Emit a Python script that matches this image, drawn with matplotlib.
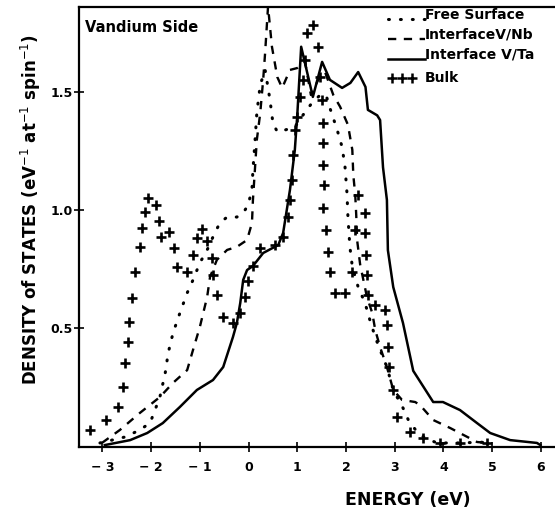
import matplotlib
matplotlib.use("Agg")
import matplotlib.pyplot as plt
from matplotlib.lines import Line2D

# ---- data ----
free_E = [-3.05, -2.54, -2.23, -2.02, -1.82, -1.71, -1.65, -1.55, -1.41, -1.26, -1.14, -1.00,
          -0.85, -0.73, -0.59, -0.44, -0.24, -0.11, -0.01, 0.07, 0.09, 0.13, 0.17, 0.24, 0.34,
          0.44, 0.50, 0.59, 0.75, 0.95, 1.12, 1.30, 1.47, 1.59, 1.67, 1.82, 1.92, 1.98, 2.02,
          2.04, 2.08, 2.13, 2.25, 2.39, 2.49, 2.60, 2.70, 2.84, 2.97, 3.17, 3.28, 3.46, 3.62,
          3.87, 4.28, 4.96]
free_D = [0.015, 0.04, 0.07, 0.10, 0.209, 0.311, 0.395, 0.48, 0.564, 0.649, 0.704, 0.776,
          0.831, 0.886, 0.945, 0.970, 0.970, 0.987, 1.021, 1.085, 1.169, 1.283, 1.41, 1.529, 1.592,
          1.465, 1.368, 1.33, 1.338, 1.351, 1.402, 1.452, 1.486, 1.486, 1.431, 1.338, 1.266, 1.182, 1.072,
          0.97, 0.844, 0.76, 0.674, 0.607, 0.535, 0.463, 0.408, 0.336, 0.239, 0.163, 0.112, 0.061, 0.036,
          0.015, 0.015, 0.019]

nb_E = [-3.01, -2.64, -2.23, -1.82, -1.55, -1.26, -1.14, -1.00, -0.85, -0.79, -0.65, -0.44,
        -0.24, -0.03, 0.07, 0.09, 0.13, 0.17, 0.24, 0.30, 0.34, 0.40, 0.48, 0.59, 0.69, 0.85,
        1.00, 1.16, 1.28, 1.43, 1.57, 1.74, 1.88, 2.04, 2.13, 2.15, 2.19, 2.21, 2.23, 2.29,
        2.43, 2.54, 2.60, 2.70, 2.84, 2.97, 3.15, 3.42, 3.52, 3.79, 4.14, 4.41, 4.69, 4.90]
nb_D = [0.015, 0.07, 0.142, 0.209, 0.269, 0.323, 0.408, 0.505, 0.632, 0.717, 0.789, 0.831,
        0.844, 0.873, 0.945, 1.042, 1.169, 1.296, 1.41, 1.55, 1.664, 1.86, 1.69, 1.562, 1.516, 1.592,
        1.60, 1.626, 1.486, 1.55, 1.583, 1.486, 1.436, 1.36, 1.254, 1.148, 1.063, 0.98, 0.87, 0.77,
        0.632, 0.564, 0.493, 0.42, 0.336, 0.239, 0.197, 0.188, 0.175, 0.112, 0.078, 0.049, 0.019, 0.015]

ta_E = [-2.95, -2.43, -2.08, -1.76, -1.41, -1.06, -0.73, -0.52, -0.32, -0.24, -0.17, -0.11,
        -0.03, 0.09, 0.30, 0.61, 0.71, 0.85, 0.95, 1.00, 1.08, 1.32, 1.51, 1.67, 1.92, 2.09,
        2.25, 2.40, 2.45, 2.64, 2.70, 2.76, 2.84, 2.86, 2.97, 3.17, 3.38, 3.79, 3.99, 4.34,
        4.69, 4.96, 5.37, 5.92, 5.99]
ta_D = [0.006, 0.027, 0.057, 0.099, 0.167, 0.239, 0.281, 0.336, 0.463, 0.522, 0.607, 0.704,
        0.746, 0.763, 0.818, 0.852, 0.903, 1.085, 1.254, 1.40, 1.69, 1.478, 1.626, 1.55, 1.516, 1.537,
        1.583, 1.52, 1.423, 1.40, 1.38, 1.18, 1.042, 0.83, 0.674, 0.522, 0.32, 0.188, 0.188, 0.154,
        0.099, 0.057, 0.027, 0.015, 0.006]

bulk_E = [-3.25, -2.92, -2.68, -2.58, -2.54, -2.47, -2.45, -2.39, -2.33, -2.23, -2.19, -2.12,
          -2.06, -1.90, -1.84, -1.80, -1.63, -1.53, -1.47, -1.26, -1.14, -1.06, -0.95, -0.85,
          -0.75, -0.73, -0.65, -0.52, -0.32, -0.17, -0.07, -0.01, 0.09, 0.24, 0.54, 0.71, 0.81,
          0.85, 0.89, 0.91, 0.95, 1.00, 1.06, 1.12, 1.16, 1.20, 1.32, 1.43, 1.47, 1.51, 1.53,
          1.53, 1.53, 1.55, 1.53, 1.59, 1.63, 1.67, 1.78, 1.98, 2.13, 2.19, 2.25, 2.39, 2.39,
          2.41, 2.43, 2.45, 2.60, 2.80, 2.84, 2.86, 2.88, 2.97, 3.05, 3.32, 3.58, 3.93, 4.34, 4.90]
bulk_D = [0.07, 0.112, 0.167, 0.252, 0.353, 0.442, 0.526, 0.628, 0.738, 0.843, 0.924, 0.991,
          1.051, 1.021, 0.953, 0.886, 0.907, 0.839, 0.759, 0.738, 0.810, 0.882, 0.920, 0.869,
          0.797, 0.725, 0.641, 0.548, 0.522, 0.564, 0.632, 0.70, 0.763, 0.839, 0.852, 0.886, 0.970,
          1.042, 1.127, 1.233, 1.338, 1.393, 1.478, 1.55, 1.634, 1.748, 1.782, 1.69, 1.562, 1.465, 1.368,
          1.283, 1.19, 1.106, 1.008, 0.915, 0.822, 0.738, 0.649, 0.649, 0.738, 0.915, 1.063, 0.987, 0.903,
          0.81, 0.725, 0.64, 0.598, 0.577, 0.514, 0.42, 0.336, 0.239, 0.125, 0.061, 0.036, 0.015, 0.015, 0.015]

x_ticks = [-3, -2, -1, 0, 1, 2, 3, 4, 5, 6]
x_ticklabels = ["\u2212 3", "\u2212 2", "\u2212 1", "0", "1", "2", "3", "4", "5", "6"]
y_ticks = [0.5, 1.0, 1.5]
y_ticklabels = ["0.5", "1.0", "1.5"]
legend_labels = ["Free Surface", "InterfaceV/Nb", "Interface V/Ta", "Bulk"]

W, H = 555, 514
fig = plt.figure(figsize=(W / 100, H / 100), dpi=100)
ax = fig.add_axes([79 / W, (H - 446.5) / H, 1 - 79 / W, (446.5 - 7) / H])

DOT = dict(lw=2.2, linestyle=(0, (0.3, 3.6)), dash_capstyle="round")
DASH = dict(lw=1.7, linestyle=(0, (3.5, 3.2)))
SOLID = dict(lw=1.8, linestyle="-")

ax.plot(free_E, free_D, color="black", **DOT)
ax.plot(nb_E, nb_D, color="black", **DASH)
ax.plot(ta_E, ta_D, color="black", **SOLID)
ax.plot(bulk_E, bulk_D, color="black", linestyle="none", marker="+", markersize=7.5, markeredgewidth=1.9)

ax.set_xlim(-3.48, 6.29)
ax.set_ylim(0, 1.858)
ax.spines["right"].set_visible(False)
for s in ["left", "bottom", "top"]:
    ax.spines[s].set_linewidth(1.6)

ax.set_xticks(x_ticks)
ax.set_xticklabels(x_ticklabels, fontsize=9, fontweight="bold")
ax.set_yticks(y_ticks)
ax.set_yticklabels(y_ticklabels, fontsize=9, fontweight="bold")
ax.tick_params(axis="both", direction="inout", length=7, width=1.2)
ax.tick_params(axis="x", pad=7)
ax.tick_params(axis="y", pad=1)

fig.text(85 / W, 1 - 27 / H, "Vandium Side", fontsize=10.5,
         fontweight="bold", va="center", ha="left")

# legend drawn by hand at top right
lx0, lx1, tx = 388, 425, 425
rows = [15, 35, 55, 78]
styles = [DOT, DASH, SOLID, None]
for lab, yy, st in zip(legend_labels, rows, styles):
    ly = 1 - (yy + 4) / H
    if st is not None:
        fig.add_artist(Line2D([lx0 / W, lx1 / W], [ly, ly], color="black", transform=fig.transFigure, **st))
    else:
        fig.add_artist(Line2D([392 / W, 402 / W, 412 / W], [1 - yy / H] * 3, color="black",
                              linestyle="none", marker="+", markersize=7, markeredgewidth=1.8,
                              transform=fig.transFigure))
    fig.text(tx / W, 1 - yy / H, lab, fontsize=10, fontweight="bold", va="center", ha="left")

fig.text(31 / W, 1 - 210 / H, "DENSITY of STATES (eV$^{-1}$ at$^{-1}$ spin$^{-1}$)",
         rotation=90, fontsize=12, fontweight="bold", va="center", ha="center")
fig.text(408 / W, 1 - 500 / H, "ENERGY (eV)", fontsize=12.5, fontweight="bold",
         va="center", ha="center")

fig.savefig("out.png", dpi=100)
